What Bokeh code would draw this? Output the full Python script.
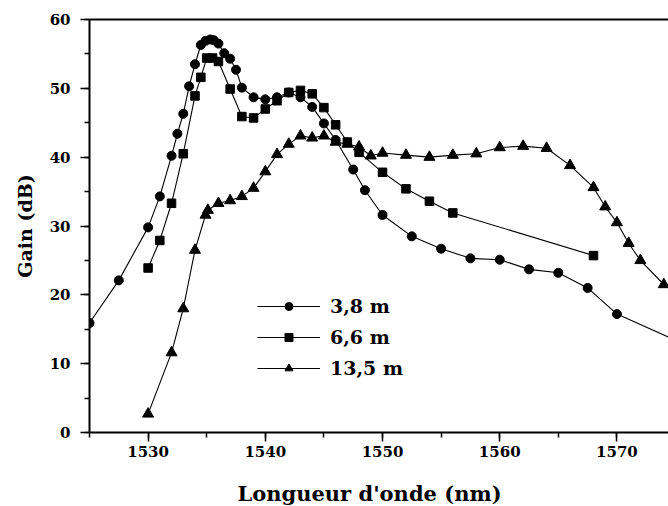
from bokeh.plotting import figure
from bokeh.models import Range1d, LinearAxis, SingleIntervalTicker, FixedTicker, Title
from bokeh.embed import file_html
from bokeh.resources import INLINE

# Data
x_38 = [1525, 1527.5, 1530, 1531, 1532, 1532.5, 1533, 1533.5, 1534, 1534.5,
        1534.9, 1535.3, 1535.6, 1536, 1536.5, 1537, 1537.5, 1538, 1539, 1540,
        1541, 1542, 1543, 1544, 1545, 1546, 1547.5, 1548.5, 1550, 1552.5,
        1555, 1557.5, 1560, 1562.5, 1565, 1567.5, 1570, 1575]
g_38 = [15.9, 22.1, 29.8, 34.3, 40.2, 43.4, 46.3, 50.3, 53.5, 56.3,
        56.9, 57.1, 57.0, 56.5, 55.1, 54.3, 52.7, 50.1, 48.7, 48.4,
        48.7, 49.4, 48.7, 47.3, 44.9, 42.5, 38.2, 35.2, 31.6, 28.5,
        26.7, 25.3, 25.1, 23.7, 23.2, 21.0, 17.2, 13.4]

x_66 = [1530, 1531, 1532, 1533, 1534, 1534.5, 1535, 1535.5, 1536, 1537,
        1538, 1539, 1540, 1541, 1542, 1543, 1544, 1545, 1546, 1547,
        1548, 1550, 1552, 1554, 1556, 1568]
g_66 = [23.9, 27.9, 33.3, 40.5, 48.9, 51.6, 54.4, 54.4, 53.9, 49.9,
        45.9, 45.7, 47.0, 48.2, 49.4, 49.7, 49.2, 47.2, 44.7, 42.2,
        40.7, 37.8, 35.4, 33.6, 31.9, 25.7]

x_135 = [1530, 1532, 1533, 1534, 1534.9, 1535.1, 1536, 1537, 1538, 1539,
         1540, 1541, 1542, 1543, 1544, 1545, 1546, 1547, 1548, 1549,
         1550, 1552, 1554, 1556, 1558, 1560, 1562, 1564, 1566, 1568,
         1569, 1570, 1571, 1572, 1574]
g_135 = [2.7, 11.6, 18.0, 26.5, 31.6, 32.3, 33.3, 33.7, 34.3, 35.5,
         37.9, 40.4, 41.9, 43.1, 42.8, 43.1, 42.2, 41.9, 41.5, 40.2,
         40.6, 40.3, 40.0, 40.3, 40.5, 41.4, 41.6, 41.3, 38.8, 35.6,
         32.8, 30.5, 27.5, 25.0, 21.5]

labels = ["3,8 m", "6,6 m", "13,5 m"]
x_title = "Longueur d'onde (nm)"
y_title = "Gain (dB)"

FONT = "DejaVu Serif"

p = figure(width=668, height=506, x_range=Range1d(1525, 1574.4), y_range=Range1d(0, 60),
           output_backend="svg", toolbar_location=None,
           min_border_left=89, min_border_right=0, min_border_top=19, min_border_bottom=74)
p.xgrid.visible = False
p.ygrid.visible = False
p.outline_line_color = None
p.background_fill_color = "white"
p.border_fill_color = "white"

p.line(x_38, g_38, line_color="black", line_width=1.1, legend_label=labels[0])
p.scatter(x_38, g_38, marker="circle", size=9, fill_color="black", line_color="black", legend_label=labels[0])
p.line(x_66, g_66, line_color="black", line_width=1.1, legend_label=labels[1])
p.scatter(x_66, g_66, marker="square", size=8.5, fill_color="black", line_color="black", legend_label=labels[1])
p.line(x_135, g_135, line_color="black", line_width=1.1, legend_label=labels[2])
p.scatter(x_135, g_135, marker="triangle", size=11, fill_color="black", line_color="black", legend_label=labels[2])

for ax in (p.xaxis[0], p.yaxis[0]):
    ax.axis_line_width = 2
    ax.major_tick_line_width = 1.5
    ax.minor_tick_line_width = 1.5
    ax.major_tick_out = 9
    ax.major_tick_in = 0
    ax.minor_tick_out = 5
    ax.minor_tick_in = 0
    ax.major_label_text_font = FONT
    ax.major_label_text_font_style = "bold"
    ax.major_label_text_font_size = "15px"
    ax.major_label_text_color = "black"

p.xaxis[0].ticker = SingleIntervalTicker(interval=10, num_minor_ticks=2)
p.yaxis[0].ticker = SingleIntervalTicker(interval=10, num_minor_ticks=2)
p.xaxis[0].major_label_standoff = 4
p.yaxis[0].major_label_standoff = 10

top = LinearAxis(ticker=FixedTicker(ticks=[]), axis_line_width=2,
                 major_tick_out=0, major_tick_in=0, minor_tick_out=0, minor_tick_in=0)
p.add_layout(top, "above")

# invisible spacer axis between the x axis and its title
spacer = LinearAxis(ticker=FixedTicker(ticks=[1550]), axis_line_color=None,
                    major_tick_out=0, major_tick_in=0, minor_tick_out=0, minor_tick_in=0,
                    major_label_overrides={1550: " "}, major_label_text_font_size="1px",
                    major_label_standoff=15)
p.add_layout(spacer, "below")

# axis titles as Title objects (allow small offsets like the reference)
p.add_layout(Title(text=x_title, align="left", offset=148, standoff=0,
                   text_font=FONT, text_font_style="bold", text_font_size="21px",
                   text_color="black"), "below")
p.add_layout(Title(text=y_title, align="center", offset=-12, standoff=22,
                   text_font=FONT, text_font_style="bold", text_font_size="19px",
                   text_color="black"), "left")

lg = p.legend[0]
lg.location = (168, 53)
lg.border_line_color = None
lg.background_fill_alpha = 0
lg.label_text_font = FONT
lg.label_text_font_style = "bold"
lg.label_text_font_size = "19px"
lg.label_text_color = "black"
lg.glyph_width = 63
lg.glyph_height = 20
lg.label_height = 20
lg.spacing = 9
lg.padding = 0
lg.margin = 0
lg.label_standoff = 10

open("out.html", "w").write(file_html(p, INLINE))
